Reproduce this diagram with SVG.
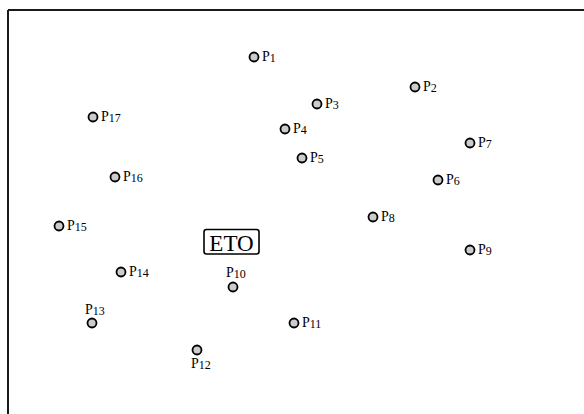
<svg xmlns="http://www.w3.org/2000/svg" width="584" height="414" viewBox="0 0 584 414">
  <style>
    .pt { fill: #cccccc; stroke: #000000; stroke-width: 1.8; }
    .lbl { font-family: "Liberation Serif", "Times New Roman", serif; font-size: 14px; fill: #000000; }
    .sub { font-size: 12px; }
    .eto { font-family: "Liberation Serif", "Times New Roman", serif; font-size: 23px; fill: #000000; }
  </style>
  <rect width="584" height="414" fill="#ffffff"/>
  <!-- frame: top and left edges -->
  <g id="frame" fill="none" stroke="#1a1a1a" stroke-width="2">
    <line x1="8" y1="10" x2="584" y2="10"/>
    <line x1="8" y1="10" x2="8" y2="414"/>
  </g>
  <g id="connectors"></g>
  <g id="ETO">
    <rect x="204" y="229.5" width="55" height="24.5" rx="2.5" fill="#ffffff" stroke="#000000" stroke-width="1.6"/>
    <text class="eto" x="231.5" y="251" text-anchor="middle">ETO</text>
  </g>
  <g id="P1"><circle class="pt" cx="254" cy="57" r="4.5"/><text class="lbl" x="262" y="61">P<tspan class="sub" dy="1">1</tspan></text></g>
  <g id="P2"><circle class="pt" cx="415" cy="87" r="4.5"/><text class="lbl" x="423" y="91">P<tspan class="sub" dy="1">2</tspan></text></g>
  <g id="P3"><circle class="pt" cx="317" cy="104" r="4.5"/><text class="lbl" x="325" y="108">P<tspan class="sub" dy="1">3</tspan></text></g>
  <g id="P4"><circle class="pt" cx="285" cy="129" r="4.5"/><text class="lbl" x="293" y="133">P<tspan class="sub" dy="1">4</tspan></text></g>
  <g id="P5"><circle class="pt" cx="302" cy="158" r="4.5"/><text class="lbl" x="310" y="162">P<tspan class="sub" dy="1">5</tspan></text></g>
  <g id="P6"><circle class="pt" cx="438" cy="180" r="4.5"/><text class="lbl" x="446" y="184">P<tspan class="sub" dy="1">6</tspan></text></g>
  <g id="P7"><circle class="pt" cx="470" cy="143" r="4.5"/><text class="lbl" x="478" y="147">P<tspan class="sub" dy="1">7</tspan></text></g>
  <g id="P8"><circle class="pt" cx="373" cy="217" r="4.5"/><text class="lbl" x="381" y="221">P<tspan class="sub" dy="1">8</tspan></text></g>
  <g id="P9"><circle class="pt" cx="470" cy="250" r="4.5"/><text class="lbl" x="478" y="254">P<tspan class="sub" dy="1">9</tspan></text></g>
  <g id="P10"><circle class="pt" cx="233" cy="287" r="4.5"/><text class="lbl" x="226" y="277">P<tspan class="sub" dy="1">10</tspan></text></g>
  <g id="P11"><circle class="pt" cx="294" cy="323" r="4.5"/><text class="lbl" x="302" y="327">P<tspan class="sub" dy="1">11</tspan></text></g>
  <g id="P12"><circle class="pt" cx="197" cy="350" r="4.5"/><text class="lbl" x="191" y="368">P<tspan class="sub" dy="1">12</tspan></text></g>
  <g id="P13"><circle class="pt" cx="92" cy="323" r="4.5"/><text class="lbl" x="85" y="314">P<tspan class="sub" dy="1">13</tspan></text></g>
  <g id="P14"><circle class="pt" cx="121" cy="272" r="4.5"/><text class="lbl" x="129" y="276">P<tspan class="sub" dy="1">14</tspan></text></g>
  <g id="P15"><circle class="pt" cx="59" cy="226" r="4.5"/><text class="lbl" x="67" y="230">P<tspan class="sub" dy="1">15</tspan></text></g>
  <g id="P16"><circle class="pt" cx="115" cy="177" r="4.5"/><text class="lbl" x="123" y="181">P<tspan class="sub" dy="1">16</tspan></text></g>
  <g id="P17"><circle class="pt" cx="93" cy="117" r="4.5"/><text class="lbl" x="101" y="121">P<tspan class="sub" dy="1">17</tspan></text></g>
</svg>
